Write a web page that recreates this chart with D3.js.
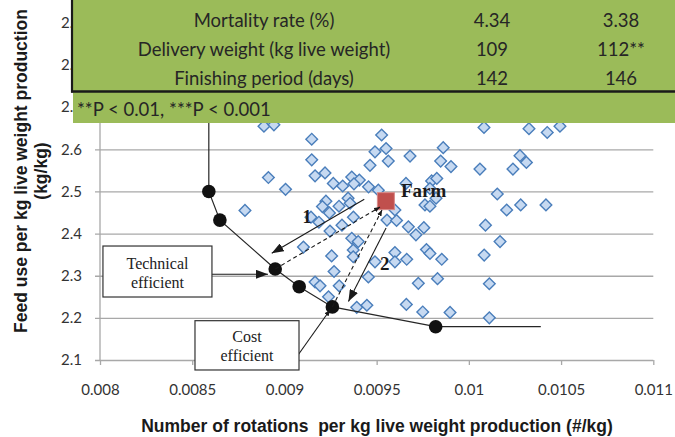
<!DOCTYPE html>
<html>
<head>
<meta charset="utf-8">
<script src="https://cdn.jsdelivr.net/npm/d3@7"></script>
<style>
body { margin: 0; background: #fff; }
svg { display: block; }
</style>
</head>
<body>
<div id="chart"></div>
<script>
// axis ticks
var xTicks = [0.008, 0.0085, 0.009, 0.0095, 0.01, 0.0105, 0.011];
var xTickLabels = ["0.008", "0.0085", "0.009", "0.0095", "0.01", "0.0105", "0.011"];
var yTicks = [2.1, 2.2, 2.3, 2.4, 2.5, 2.6, 2.7, 2.8, 2.9];

// farms (diamonds)
var farmsX = [0.008889, 0.008943, 0.009148, 0.009148, 0.008913, 0.009166, 0.009220, 0.009265, 0.009006, 0.008786,
	0.009225, 0.009206, 0.009244, 0.009296, 0.009144, 0.009247, 0.009312, 0.009103, 0.009256, 0.009269,
	0.009166, 0.009193, 0.009239, 0.009297, 0.009527, 0.009491, 0.009551, 0.009681, 0.009464, 0.009563,
	0.009316, 0.009365, 0.009406, 0.009377, 0.009456, 0.009509, 0.009659, 0.009798, 0.009826, 0.009789,
	0.009822, 0.009762, 0.009789, 0.009345, 0.009356, 0.009374, 0.009599, 0.009556, 0.009608, 0.009187,
	0.009672, 0.009713, 0.009756, 0.009861, 0.009847, 0.009903, 0.010060, 0.010277, 0.010312, 0.010239,
	0.010082, 0.010326, 0.010425, 0.010494, 0.010154, 0.010205, 0.010281, 0.010418, 0.010090, 0.010169,
	0.009365, 0.009400, 0.009373, 0.009373, 0.009599, 0.009770, 0.009789, 0.009663, 0.009853, 0.010083,
	0.009491, 0.009599, 0.009455, 0.009726, 0.009830, 0.010111, 0.009392, 0.009447, 0.009661, 0.009750,
	0.009898, 0.010111];
var farmsY = [2.655, 2.658, 2.624, 2.575, 2.533, 2.537, 2.544, 2.519, 2.505, 2.455,
	2.477, 2.464, 2.449, 2.465, 2.439, 2.406, 2.420, 2.368, 2.347, 2.310,
	2.285, 2.276, 2.250, 2.276, 2.634, 2.594, 2.602, 2.584, 2.562, 2.572,
	2.513, 2.534, 2.527, 2.518, 2.511, 2.503, 2.519, 2.525, 2.531, 2.507,
	2.484, 2.468, 2.465, 2.484, 2.472, 2.439, 2.456, 2.432, 2.431, 2.427,
	2.416, 2.397, 2.414, 2.604, 2.572, 2.559, 2.553, 2.585, 2.569, 2.553,
	2.652, 2.649, 2.640, 2.655, 2.494, 2.456, 2.468, 2.468, 2.420, 2.381,
	2.389, 2.381, 2.361, 2.345, 2.355, 2.362, 2.353, 2.339, 2.339, 2.349,
	2.333, 2.333, 2.297, 2.282, 2.293, 2.281, 2.225, 2.230, 2.232, 2.214,
	2.213, 2.200];

// efficient frontier (black dots)
var frontierX = [0.00859, 0.00865, 0.00895, 0.00908, 0.00926, 0.00982];
var frontierY = [2.500, 2.432, 2.316, 2.274, 2.226, 2.179];
var frontierTopY = 2.9;      // vertical part runs up under the table
var frontierEndX = 0.01039;  // horizontal tail

// the highlighted farm
var farmPointX = 0.00955;
var farmPointY = 2.477;

// table overlay
var tableLabels = ["Mortality rate (%)", "Delivery weight (kg live weight)", "Finishing period (days)"];
var tableCol1 = ["4.34", "109", "142"];
var tableCol2 = ["3.38", "112**", "146"];
var footnote = "**P < 0.01, ***P < 0.001";

var W = 675, H = 437;
var svg = d3.select("#chart").append("svg")
	.attr("width", W)
	.attr("height", H)
	.style("font-family", "'Liberation Sans', Arial, sans-serif");

var x = d3.scaleLinear().domain([0.008, 0.011]).range([100, 653.3]);
var y = d3.scaleLinear().domain([2.1, 2.9]).range([360, 22.9]);

var defs = svg.append("defs");
function addMarker(id, len, wid) {
	defs.append("marker")
		.attr("id", id)
		.attr("markerUnits", "userSpaceOnUse")
		.attr("viewBox", "0 0 " + len + " " + wid)
		.attr("refX", len).attr("refY", wid / 2)
		.attr("markerWidth", len).attr("markerHeight", wid)
		.attr("orient", "auto")
		.append("path")
		.attr("d", "M0,0L" + len + "," + (wid / 2) + "L0," + wid + "Z")
		.attr("fill", "#1a1a1a");
}
addMarker("bigArrow", 12, 9);
addMarker("smallArrow", 6, 5);

// gridlines + y labels
var yAxis = d3.axisLeft(y)
	.tickValues(yTicks)
	.tickSize(-(653.3 - 95))
	.tickPadding(13)
	.tickFormat(function (d) { return d.toFixed(1); });
var gy = svg.append("g").attr("transform", "translate(95,0)").call(yAxis);
gy.select(".domain").remove();
gy.selectAll("line").attr("stroke", "#a8a8a8").attr("stroke-width", 1.3);
gy.selectAll("text").attr("fill", "#333").style("font-family", "Lato, sans-serif").style("font-size", "15px");

// x axis ticks + labels
var xAxis = d3.axisBottom(x)
	.tickValues(xTicks)
	.tickSize(5)
	.tickPadding(19)
	.tickFormat(function (d, i) { return xTickLabels[i]; });
var gx = svg.append("g").attr("transform", "translate(0,360)").call(xAxis);
gx.select(".domain").remove();
gx.selectAll("line").attr("stroke", "#a8a8a8").attr("stroke-width", 1.3);
gx.selectAll("text").attr("fill", "#333").style("font-family", "Lato, sans-serif").style("font-size", "15px");

// vertical axis line
svg.append("line")
	.attr("x1", x(0.008)).attr("x2", x(0.008))
	.attr("y1", y(2.1)).attr("y2", y(2.9))
	.attr("stroke", "#a8a8a8").attr("stroke-width", 1.3);

// diamonds
var farms = farmsX.map(function (d, i) { return [d, farmsY[i]]; });
svg.append("g").selectAll("path").data(farms)
	.enter().append("path")
	.attr("d", d3.symbol().type(d3.symbolSquare).size(68))
	.attr("transform", function (d) { return "translate(" + x(d[0]) + "," + y(d[1]) + ") rotate(45)"; })
	.attr("fill", "#c6d9f1")
	.attr("stroke", "#4a7ebb")
	.attr("stroke-width", 1.4);

// frontier line
var frontier = frontierX.map(function (d, i) { return [d, frontierY[i]]; });
var frontierPath = [[frontierX[0], frontierTopY]].concat(frontier).concat([[frontierEndX, frontierY[frontierY.length - 1]]]);
svg.append("path")
	.datum(frontierPath)
	.attr("d", d3.line().x(function (d) { return x(d[0]); }).y(function (d) { return y(d[1]); }))
	.attr("fill", "none")
	.attr("stroke", "#262626")
	.attr("stroke-width", 1.2);

svg.append("g").selectAll("circle").data(frontier)
	.enter().append("circle")
	.attr("cx", function (d) { return x(d[0]); })
	.attr("cy", function (d) { return y(d[1]); })
	.attr("r", 6.8)
	.attr("fill", "#111");

// farm square
svg.append("rect")
	.attr("x", x(farmPointX) - 8.5)
	.attr("y", y(farmPointY) - 8.5)
	.attr("width", 17).attr("height", 17)
	.attr("fill", "#c0504d")
	.attr("stroke", "#d98a88")
	.attr("stroke-width", 1);

svg.append("text")
	.attr("x", x(0.009632)).attr("y", y(2.488))
	.style("font-family", "'Liberation Serif', 'Times New Roman', serif")
	.style("font-weight", "bold")
	.style("font-size", "19px")
	.attr("fill", "#1a1a1a")
	.text("Farm");

// annotation arrows (data coords)
function arrow(x1, y1, x2, y2, dashed, marker) {
	svg.append("line")
		.attr("x1", x(x1)).attr("y1", y(y1))
		.attr("x2", x(x2)).attr("y2", y(y2))
		.attr("stroke", "#1a1a1a")
		.attr("stroke-width", 1.1)
		.attr("stroke-dasharray", dashed ? "4,3" : null)
		.attr("marker-end", "url(#" + marker + ")");
}
// dashed: efficient points -> farm
arrow(frontierX[2], frontierY[2], 0.009518, 2.463, true, "smallArrow");
arrow(frontierX[4], frontierY[4], 0.009529, 2.456, true, "smallArrow");
// solid numbered arrows
arrow(0.009433, 2.4813, 0.008931, 2.3532, false, "bigArrow");
arrow(0.009551, 2.4132, 0.009347, 2.2388, false, "bigArrow");
// from boxes
arrow(0.008607, 2.3034, 0.008911, 2.3034, false, "bigArrow");
arrow(0.009074, 2.1119, 0.009247, 2.2187, false, "smallArrow");

svg.append("text")
	.attr("x", x(0.009122)).attr("y", y(2.425))
	.attr("text-anchor", "middle")
	.style("font-family", "'Liberation Serif', serif").style("font-weight", "bold").style("font-size", "18px")
	.attr("fill", "#1a1a1a").text("1");
svg.append("text")
	.attr("x", x(0.009544)).attr("y", y(2.3136))
	.attr("text-anchor", "middle")
	.style("font-family", "'Liberation Serif', serif").style("font-weight", "bold").style("font-size", "19px")
	.attr("fill", "#1a1a1a").text("2");

// text boxes
function textBox(x1, y1, x2, y2, lines) {
	var g = svg.append("g");
	g.append("rect")
		.attr("x", x(x1)).attr("y", y(y1))
		.attr("width", x(x2) - x(x1)).attr("height", y(y2) - y(y1))
		.attr("fill", "#fff").attr("stroke", "#333").attr("stroke-width", 1.2);
	var cx = (x(x1) + x(x2)) / 2;
	var cy = (y(y1) + y(y2)) / 2;
	lines.forEach(function (t, i) {
		g.append("text")
			.attr("x", cx).attr("y", cy - 3 + (i === 0 ? 0 : 19))
			.attr("text-anchor", "middle")
			.style("font-family", "'Liberation Serif', 'Times New Roman', serif")
			.style("font-size", "16px")
			.attr("fill", "#222")
			.text(t);
	});
}
textBox(0.008016, 2.3705, 0.008607, 2.2495, ["Technical", "efficient"]);
textBox(0.008515, 2.1933, 0.009079, 2.0763, ["Cost", "efficient"]);

// axis titles
svg.append("text")
	.attr("x", 377).attr("y", 432)
	.attr("text-anchor", "middle")
	.style("font-weight", "bold").style("font-size", "17.5px")
	.attr("fill", "#1a1a1a")
	.attr("xml:space", "preserve")
	.text("Number of rotations  per kg live weight production (#/kg)");

var yt = svg.append("text")
	.attr("transform", "translate(27,171) rotate(-90)")
	.attr("text-anchor", "middle")
	.style("font-weight", "bold").style("font-size", "17.5px")
	.attr("fill", "#1a1a1a");
yt.append("tspan").attr("x", 0).attr("y", 0).text("Feed use per kg live weight production");
yt.append("tspan").attr("x", 0).attr("y", 20).text("(kg/kg)");

// table overlay
var tg = svg.append("g").style("font-family", "Lato, sans-serif").style("font-size", "18.5px");
tg.append("rect").attr("x", 71).attr("y", 0).attr("width", W - 71).attr("height", 92).attr("fill", "#9bbb59");
tg.append("rect").attr("x", 73).attr("y", 92).attr("width", W - 73).attr("height", 31).attr("fill", "#9bbb59");
tg.append("line").attr("x1", 72).attr("x2", 72).attr("y1", 0).attr("y2", 92.5).attr("stroke", "#1a1a1a").attr("stroke-width", 2.2);
tg.append("line").attr("x1", 71).attr("x2", W).attr("y1", 91.5).attr("y2", 91.5).attr("stroke", "#1a1a1a").attr("stroke-width", 2.5);

var rowY = d3.scalePoint().domain(tableLabels).range([27, 85]);
tg.selectAll("text.lab").data(tableLabels).enter().append("text")
	.attr("class", "lab").attr("x", 264).attr("y", function (d) { return rowY(d); })
	.attr("text-anchor", "middle").attr("fill", "#262626").text(function (d) { return d; });
tg.selectAll("text.c1").data(tableCol1).enter().append("text")
	.attr("class", "c1").attr("x", 492).attr("y", function (d, i) { return rowY(tableLabels[i]); })
	.attr("text-anchor", "middle").attr("fill", "#262626").text(function (d) { return d; });
tg.selectAll("text.c2").data(tableCol2).enter().append("text")
	.attr("class", "c2").attr("x", 621).attr("y", function (d, i) { return rowY(tableLabels[i]); })
	.attr("text-anchor", "middle").attr("fill", "#262626").text(function (d) { return d; });
tg.append("text").attr("x", 77).attr("y", 115.5).attr("fill", "#262626").text(footnote);
</script>
</body>
</html>
